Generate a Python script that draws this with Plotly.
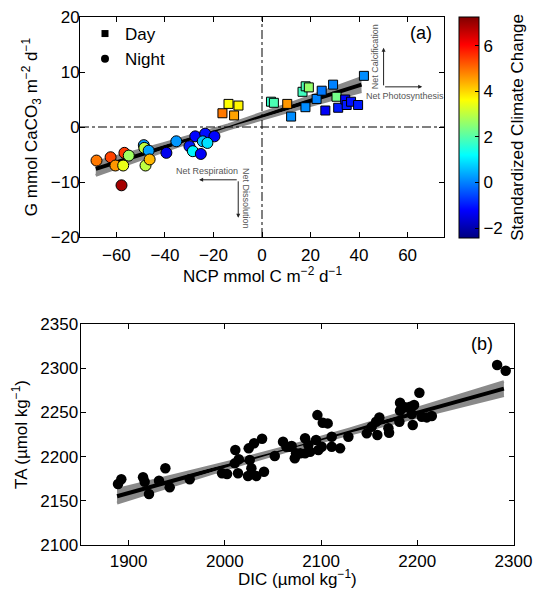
import plotly.graph_objects as go

# ---------------- Panel (a) data ----------------
day_ncp = [-16.3, -13.8, -9.7, -11.5, 3.7, 4.9, 10.4, 12.0, 17.9, 16.7, 18.0, 19.3,
           22.5, 24.6, 26.1, 29.3, 30.7, 31.4, 34.3, 34.9, 36.7, 39.6, 42.0]
day_g = [2.5, 4.2, 3.9, 2.1, 4.6, 4.4, 4.2, 1.9, 3.6, 6.4, 7.4, 7.2,
         5.1, 6.6, 3.0, 7.7, 5.5, 3.5, 5.0, 4.0, 4.6, 4.0, 9.3]
day_clim = [4.9, 3.6, 3.7, 4.5, 1.7, 1.9, 4.6, 0.1, 0.1, 1.8, 1.9, 2.6,
            0.0, -0.1, -1.3, 0.0, 2.3, -1.0, -1.2, -1.0, -1.1, -1.0, 0.1]

night_ncp = [-68.2, -62.4, -60.4, -57.2, -56.7, -54.9, -57.9, -48.7, -48.5, -46.7,
             -48.0, -46.3, -39.4, -35.3, -29.9, -28.5, -25.2, -27.5, -23.4, -19.6,
             -24.4, -22.5]
night_g = [-6.1, -5.5, -7.0, -7.0, -4.7, -5.2, -10.6, -3.3, -3.8, -4.3,
           -7.0, -5.9, -4.7, -2.6, -3.5, -4.4, -4.9, -1.7, -1.2, -1.7,
           -2.6, -2.9]
night_clim = [4.9, 5.4, 4.6, 3.4, 5.5, 2.7, 6.9, 0.2, 3.0, 0.3,
              3.0, 4.3, -1.4, 0.2, -1.0, 1.1, -1.3, -1.2, -1.1, -1.2,
              0.6, 0.9]

fit_a_x = [-68.5, 41.0]
fit_a_y = [-7.6, 7.7]
band_a_x = [-68.5, -41.0, -14.0, 13.0, 41.0]
band_a_hi = [-6.4, -3.06, 0.39, 4.48, 8.95]
band_a_lo = [-8.8, -4.46, -0.37, 3.08, 6.45]

# ---------------- Panel (b) data ----------------
dic = [1889.0, 1892.4, 1915.0, 1916.7, 1921.2, 1931.6, 1938.2, 1942.7, 1963.5,
       1997.1, 2002.3, 2010.9, 2010.3, 2014.5, 2013.7, 2024.8, 2030.4, 2038.7,
       2025.9, 2027.6, 2024.1, 2032.7, 2040.7, 2051.9, 2060.5, 2067.5, 2072.7,
       2069.5, 2074.0, 2083.4, 2086.8, 2088.6, 2083.4, 2094.8, 2097.2, 2100.7,
       2111.1, 2111.1, 2119.8, 2128.4, 2096.2, 2101.8, 2064.0, 2078.5, 2106.9,
       2147.5, 2152.7, 2157.2, 2160.6, 2158.5, 2170.0, 2170.7,
       2182.1, 2182.1, 2187.3, 2192.5, 2196.7, 2194.3, 2202.2, 2204.7, 2195.3,
       2209.9, 2215.1, 2181.4, 2283.0, 2291.9]
ta = [2168.9, 2174.2, 2176.5, 2171.5, 2157.5, 2172.6, 2186.7, 2165.1, 2174.2,
      2181.0, 2180.2, 2207.4, 2192.3, 2196.9, 2181.0, 2209.3, 2215.0, 2220.2,
      2196.1, 2186.7, 2178.0, 2178.0, 2182.8, 2200.6, 2216.8, 2211.1, 2198.0,
      2211.9, 2203.7, 2220.7, 2213.1, 2205.5, 2203.7, 2218.7, 2207.4, 2211.1,
      2222.5, 2211.1, 2209.3, 2222.5, 2247.0, 2238.3, 2211.0, 2203.7, 2237.6,
      2226.3, 2233.8, 2239.5, 2244.4, 2224.4, 2232.0, 2227.0,
      2261.0, 2251.9, 2255.8, 2256.5, 2258.4, 2248.2, 2272.3, 2245.1, 2235.7,
      2244.4, 2245.9, 2239.5, 2303.8, 2297.3]

fit_b_x = [1888.0, 2290.0]
fit_b_y = [2155.0, 2277.0]
band_b_x = [1888.0, 1950.0, 2010.0, 2070.0, 2130.0, 2190.0, 2290.0]
band_b_hi = [2162.7, 2179.1, 2195.2, 2212.5, 2231.4, 2251.5, 2284.9]
band_b_lo = [2147.3, 2168.5, 2188.8, 2207.9, 2225.4, 2241.9, 2269.1]

cbar_ticks = [-2, 0, 2, 4, 6]

FONT = "Liberation Sans, Arial, sans-serif"
W, H = 534, 589
GRAY = "#8a8a8a"

jet = [[0.0, "rgb(0,0,128)"], [0.125, "rgb(0,0,255)"], [0.375, "rgb(0,255,255)"],
       [0.625, "rgb(255,255,0)"], [0.875, "rgb(255,0,0)"], [1.0, "rgb(128,0,0)"]]

fig = go.Figure()


def add_band(xs, lo, hi, fx, fy, xa, ya):
    fig.add_trace(go.Scatter(x=xs, y=lo, mode="lines", line=dict(width=0, color=GRAY),
                             showlegend=False, hoverinfo="skip", xaxis=xa, yaxis=ya))
    fig.add_trace(go.Scatter(x=xs, y=hi, mode="lines", line=dict(width=0, color=GRAY),
                             fill="tonexty", fillcolor=GRAY, showlegend=False,
                             hoverinfo="skip", xaxis=xa, yaxis=ya))
    fig.add_trace(go.Scatter(x=fx, y=fy, mode="lines", line=dict(width=4, color="black"),
                             showlegend=False, hoverinfo="skip", xaxis=xa, yaxis=ya))
    for e in (lo, hi):
        fig.add_trace(go.Scatter(x=xs, y=e, mode="lines", line=dict(width=3, color=GRAY),
                                 showlegend=False, hoverinfo="skip", xaxis=xa, yaxis=ya))


add_band(band_a_x, band_a_lo, band_a_hi, fit_a_x, fit_a_y, "x", "y")
add_band(band_b_x, band_b_lo, band_b_hi, fit_b_x, fit_b_y, "x2", "y2")

# Panel (a) markers
fig.add_trace(go.Scatter(x=night_ncp, y=night_g, mode="markers", showlegend=False,
                         marker=dict(symbol="circle", size=11, color=night_clim,
                                     coloraxis="coloraxis",
                                     line=dict(color="black", width=1)),
                         xaxis="x", yaxis="y"))
fig.add_trace(go.Scatter(x=day_ncp, y=day_g, mode="markers", showlegend=False,
                         marker=dict(symbol="square", size=9, color=day_clim,
                                     coloraxis="coloraxis",
                                     line=dict(color="black", width=1)),
                         xaxis="x", yaxis="y"))
# legend entries
fig.add_trace(go.Scatter(x=[None], y=[None], mode="markers", name="Day",
                         marker=dict(symbol="square", size=7, color="black"),
                         xaxis="x", yaxis="y"))
fig.add_trace(go.Scatter(x=[None], y=[None], mode="markers", name="Night",
                         marker=dict(symbol="circle", size=8, color="black"),
                         xaxis="x", yaxis="y"))

# Panel (b) markers
fig.add_trace(go.Scatter(x=dic, y=ta, mode="markers", showlegend=False,
                         marker=dict(symbol="circle", size=10.5, color="black"),
                         xaxis="x2", yaxis="y2"))

axis_common = dict(showline=True, linecolor="black", linewidth=1, mirror="ticks",
                   ticks="inside", ticklen=5, tickcolor="black", showgrid=False,
                   zeroline=False, automargin=False,
                   tickfont=dict(size=17, color="black", family=FONT))

fig.update_layout(
    template="none",
    width=W, height=H,
    margin=dict(l=0, r=0, t=0, b=0, autoexpand=False),
    paper_bgcolor="white", plot_bgcolor="white",
    font=dict(family=FONT, size=17, color="black"),
    xaxis=dict(domain=[80 / W, 444 / W], range=[-75, 75], tickvals=[-60, -40, -20, 0, 20, 40, 60],
               anchor="y", ticklabelstandoff=3, **axis_common),
    yaxis=dict(domain=[1 - 237 / H, 1 - 17 / H], range=[-20, 20], tickvals=[-20, -10, 0, 10, 20],
               anchor="x", ticklabelstandoff=-4,
               title=dict(text="G mmol CaCO<sub>3</sub> m<sup>−2</sup> d<sup>−1</sup>", standoff=8,
                          font=dict(size=17)), **axis_common),
    xaxis2=dict(domain=[80.5 / W, 513.5 / W], range=[1850, 2300],
                tickvals=[1900, 2000, 2100, 2200, 2300], anchor="y2", ticklabelstandoff=1,
                **axis_common),
    yaxis2=dict(domain=[1 - 544.8 / H, 1 - 324.2 / H], range=[2100, 2350],
                tickvals=[2100, 2150, 2200, 2250, 2300, 2350], anchor="x2", ticklabelstandoff=-2,
                title=dict(text="TA (µmol kg<sup>−1</sup>)", standoff=8, font=dict(size=17)),
                **axis_common),
    coloraxis=dict(
        colorscale=jet, cmin=-2.45, cmax=7.25,
        colorbar=dict(x=459 / W, xanchor="left", xpad=0, y=1 - 127.8 / H, yanchor="middle",
                      ypad=0, len=221 / H, lenmode="fraction", thickness=20,
                      outlinecolor="black", outlinewidth=1,
                      tickvals=cbar_ticks, ticks="inside", ticklen=4, tickcolor="black",
                      tickfont=dict(size=17, color="black", family=FONT)),
    ),
    legend=dict(x=85 / W, xanchor="left", y=1 - 16 / H, yanchor="top", traceorder="normal",
                bgcolor="rgba(0,0,0,0)", font=dict(size=17, color="black", family=FONT),
                tracegroupgap=0, itemsizing="trace"),
    showlegend=True,
)

# reference lines at zero in panel (a)
fig.add_shape(type="line", xref="x", yref="y domain", x0=0, x1=0, y0=0, y1=1,
              line=dict(color="black", width=1, dash="dashdot"))
fig.add_shape(type="line", xref="x domain", yref="y", x0=0, x1=1, y0=0, y1=0,
              line=dict(color="black", width=1, dash="dashdot"))

TXT = "#555555"
small = dict(size=9, color=TXT, family=FONT)
big = dict(size=17, color="black", family=FONT)
ann = [
    dict(x=262 / W, y=1 - 275 / H, xref="paper", yref="paper", xanchor="center",
         yanchor="middle", text="NCP mmol C m<sup>−2</sup> d<sup>−1</sup>",
         showarrow=False, font=big),
    dict(x=297 / W, y=1 - 578 / H, xref="paper", yref="paper", xanchor="center",
         yanchor="middle", text="DIC (µmol kg<sup>−1</sup>)", showarrow=False, font=big),
    dict(x=65.6, y=17.1, xref="x", yref="y", text="(a)", showarrow=False,
         font=dict(size=18, color="black", family=FONT)),
    dict(x=2267, y=2328, xref="x2", yref="y2", text="(b)", showarrow=False,
         font=dict(size=18, color="black", family=FONT)),
    dict(x=518 / W, y=1 - 127.8 / H, xref="paper", yref="paper", xanchor="center",
         yanchor="middle", text="Standardized Climate Change", textangle=-90,
         showarrow=False, font=big),
    dict(x=46.4, y=12.8, xref="x", yref="y", text="Net Calcification", textangle=-90,
         showarrow=False, font=small),
    dict(x=59.1, y=5.56, xref="x", yref="y", text="Net Photosynthesis",
         showarrow=False, font=small),
    dict(x=-22.6, y=-8.07, xref="x", yref="y", text="Net Respiration",
         showarrow=False, font=small),
    dict(x=-6.4, y=-13.0, xref="x", yref="y", text="Net Dissolution", textangle=90,
         showarrow=False, font=small),
]
arrows = [
    (50.1, 7.3, 50.1, 14.4),
    (50.1, 7.3, 66.0, 7.3),
    (-9.8, -9.6, -25.9, -9.6),
    (-9.8, -9.6, -9.8, -16.5),
]
for (x0, y0, x1, y1) in arrows:
    ann.append(dict(x=x1, y=y1, ax=x0, ay=y0, xref="x", yref="y", axref="x", ayref="y",
                    text="", showarrow=True, arrowhead=2, arrowsize=0.8, arrowwidth=1,
                    arrowcolor="#222222"))
fig.update_layout(annotations=ann)

fig.write_html("out.html", config={"displayModeBar": False},
               post_script="document.body.style.margin='0';document.body.style.overflow='hidden';")
